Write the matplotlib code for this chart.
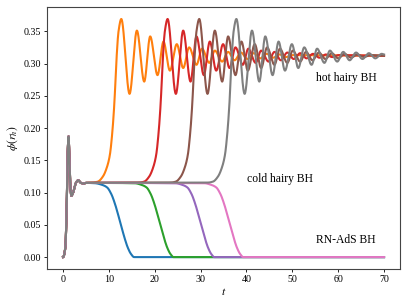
import numpy as np
import matplotlib
matplotlib.use("Agg")
import matplotlib.pyplot as plt

plt.rcParams['font.family'] = ['Liberation Serif', 'DejaVu Serif']
plt.rcParams['mathtext.fontset'] = 'stix'

# ---- data ----
t_early = [0.0, 0.5, 0.8, 1.0, 1.2, 1.4, 1.6, 1.8, 2.2, 2.8, 3.3, 3.9, 4.5]
phi_early = [0.0, 0.015, 0.08, 0.16, 0.187, 0.15, 0.11, 0.095, 0.10, 0.115, 0.119, 0.115, 0.114]

# cold (decay to RN-AdS)
t_blue = [5.0, 7.0, 8.5, 9.6, 10.5, 11.3, 12.0, 12.7, 13.4, 14.1, 14.8, 15.5, 17.0, 70.0]
phi_blue = [0.115, 0.1145, 0.112, 0.108, 0.098, 0.083, 0.066, 0.048, 0.030, 0.015, 0.005, 0.0, 0.0, 0.0]
t_green = [5.0, 15.6, 17.1, 18.2, 19.1, 19.9, 20.6, 21.3, 22.0, 22.7, 23.4, 24.1, 25.6, 70.0]
phi_green = phi_blue
t_purple = [5.0, 24.5, 26.0, 27.1, 28.0, 28.8, 29.5, 30.2, 30.9, 31.6, 32.3, 33.0, 34.5, 70.0]
phi_purple = phi_blue
t_pink = [5.0, 30.8, 32.3, 33.4, 34.3, 35.1, 35.8, 36.5, 37.2, 37.9, 38.6, 39.3, 40.8, 70.0]
phi_pink = phi_blue

# hot (grow to hairy BH)
t_orange = [5.0, 6.5, 7.6, 8.7, 9.6, 10.2, 10.7, 11.2, 11.6, 12.1, 12.7,
            14.5, 16.1, 17.7, 19.0, 20.6, 21.9, 23.3, 24.8, 26.2, 27.5, 29.1, 30.3,
            31.9, 33.1, 34.7, 36.0, 37.4, 38.8, 40.2, 41.6, 43.0, 44.4, 45.8, 47.2,
            48.6, 50.0, 70.0]
phi_orange = [0.115, 0.1155, 0.117, 0.125, 0.140, 0.158, 0.190, 0.240, 0.300, 0.350, 0.369,
              0.253, 0.351, 0.272, 0.342, 0.282, 0.334, 0.289, 0.330, 0.293, 0.325, 0.298, 0.323,
              0.301, 0.320, 0.303, 0.318, 0.305, 0.317, 0.307, 0.316, 0.308, 0.315, 0.309, 0.314,
              0.310, 0.313, 0.312]
t_red = [5.0, 16.6, 17.7, 18.8, 19.7, 20.3, 20.8, 21.3, 21.7, 22.2, 22.8,
         24.6, 26.2, 27.8, 29.1, 30.7, 32.0, 33.4, 34.9, 36.3, 37.6, 39.2, 40.4,
         42.0, 43.2, 44.8, 46.1, 47.5, 48.9, 50.3, 51.7, 53.1, 54.5, 55.9, 57.3,
         58.7, 60.1, 70.0]
phi_red = phi_orange
t_brown = [5.0, 23.5, 24.6, 25.7, 26.6, 27.2, 27.7, 28.2, 28.6, 29.1, 29.7,
           31.5, 33.1, 34.7, 36.0, 37.6, 38.9, 40.3, 41.8, 43.2, 44.5, 46.1, 47.3,
           48.9, 50.1, 51.7, 53.0, 54.4, 55.8, 57.2, 58.6, 60.0, 61.4, 62.8, 64.2,
           65.6, 67.0, 70.0]
phi_brown = phi_orange
t_gray = [5.0, 31.6, 32.7, 33.8, 34.7, 35.3, 35.8, 36.3, 36.7, 37.2, 37.8,
          39.6, 41.2, 42.8, 44.1, 45.7, 47.0, 48.4, 49.9, 51.3, 52.6, 54.2, 55.4,
          57.0, 58.2, 59.8, 61.1, 62.5, 63.9, 65.3, 66.7, 68.1, 69.5, 70.0]
phi_gray = phi_orange[:33] + [0.314]

x_ticks = [0, 10, 20, 30, 40, 50, 60, 70]
y_ticks = [0.00, 0.05, 0.10, 0.15, 0.20, 0.25, 0.30, 0.35]
labels = ["hot hairy BH", "cold hairy BH", "RN-AdS BH"]
label_pos_t = [61.8, 47.4, 61.7]
label_pos_phi = [0.277, 0.121, 0.026]


def smooth(x, y, n=4000):
    """monotone cubic (PCHIP) curve through read points, for drawing only"""
    x = np.asarray(x, float)
    y = np.asarray(y, float)
    h = np.diff(x)
    d = np.diff(y) / h
    m = np.zeros_like(y)
    for k in range(1, len(x) - 1):
        if d[k - 1] * d[k] > 0:
            w1 = 2 * h[k] + h[k - 1]
            w2 = h[k] + 2 * h[k - 1]
            m[k] = (w1 + w2) / (w1 / d[k - 1] + w2 / d[k])
    xn = np.linspace(x[0], x[-1], n)
    i = np.clip(np.searchsorted(x, xn) - 1, 0, len(x) - 2)
    s = (xn - x[i]) / h[i]
    h00 = 2 * s**3 - 3 * s**2 + 1
    h10 = s**3 - 2 * s**2 + s
    h01 = -2 * s**3 + 3 * s**2
    h11 = s**3 - s**2
    yn = h00 * y[i] + h10 * h[i] * m[i] + h01 * y[i + 1] + h11 * h[i] * m[i + 1]
    return xn, yn


fig = plt.figure(figsize=(4.07, 3.08), dpi=100)
ax = fig.add_axes([0.1155, 0.1266, 0.8675, 0.8504])

series = [
    (t_blue, phi_blue, 'C0'),
    (t_orange, phi_orange, 'C1'),
    (t_green, phi_green, 'C2'),
    (t_red, phi_red, 'C3'),
    (t_purple, phi_purple, 'C4'),
    (t_brown, phi_brown, 'C5'),
    (t_pink, phi_pink, 'C6'),
    (t_gray, phi_gray, 'C7'),
]
for tt, pp, c in series:
    x, y = smooth(list(t_early) + list(tt), list(phi_early) + list(pp))
    ax.plot(x, y, color=c, lw=1.5)

for s, tx, py in zip(labels, label_pos_t, label_pos_phi):
    ax.text(tx, py, s, ha='center', va='center', fontsize=8.4)

ax.set_xticks(x_ticks)
ax.set_yticks(y_ticks)
ax.set_yticklabels([f"{v:.2f}" for v in y_ticks])
ax.tick_params(labelsize=7.2, length=2.5, width=0.6, pad=2)
ax.set_xlabel(r'$t$', fontsize=8.4, labelpad=1)
ax.set_ylabel(r'$\phi(r_h)$', fontsize=8.4, labelpad=2)
for sp in ax.spines.values():
    sp.set_linewidth(0.8)
    sp.set_color('#444444')

fig.savefig('out.png', dpi=100)
